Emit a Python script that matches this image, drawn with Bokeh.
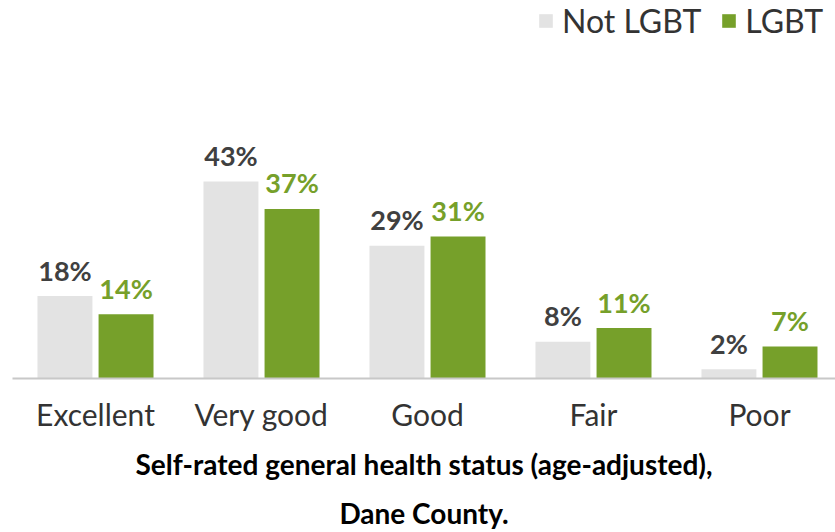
from bokeh.plotting import figure
from bokeh.models import ColumnDataSource, FixedTicker, Legend, LegendItem, Title
from bokeh.embed import file_html
from bokeh.resources import INLINE

categories = ["Excellent", "Very good", "Good", "Fair", "Poor"]
not_lgbt = [18, 43, 29, 8, 2]
lgbt = [14, 37, 31, 11, 7]
series_names = ["Not LGBT", "LGBT"]
title_lines = ["Self-rated general health status (age-adjusted),", "Dane County."]

GRAY = "#e3e3e3"
GREEN = "#76a02a"
DARK = "#404040"

xs = list(range(len(categories)))
dodge = 0.184
src_a = ColumnDataSource(dict(x=[v - dodge for v in xs], top=not_lgbt,
                              lab=[f"{v}%" for v in not_lgbt]))
src_b = ColumnDataSource(dict(x=[v + dodge for v in xs], top=lgbt,
                              lab=[f"{v}%" for v in lgbt]))

p = figure(frame_width=823, frame_height=378, x_range=(-0.5, 4.458), y_range=(0, 82.5),
           output_backend="svg", toolbar_location=None,
           min_border_left=12, min_border_right=0, min_border_top=0, min_border_bottom=154)
p.outline_line_color = None
p.background_fill_color = "white"
p.border_fill_color = "white"
p.xgrid.visible = False
p.ygrid.visible = False
p.yaxis.visible = False

bw = 0.331
ra = p.vbar(x="x", top="top", width=bw, source=src_a, fill_color=GRAY, line_color=None)
rb = p.vbar(x="x", top="top", width=bw, source=src_b, fill_color=GREEN, line_color=None)

font = "Lato"
p.text(x="x", y="top", text="lab", source=src_a, text_align="center", text_baseline="alphabetic",
       y_offset=-26, text_font_size="27px", text_font_style="bold", text_color=DARK,
       text_font={"value": font})
p.text(x="x", y="top", text="lab", source=src_b, text_align="center", text_baseline="alphabetic",
       y_offset=-26, text_font_size="27px", text_font_style="bold", text_color=GREEN,
       text_font={"value": font})

ax = p.xaxis[0]
ax.ticker = FixedTicker(ticks=xs)
ax.major_label_overrides = {i: c for i, c in enumerate(categories)}
ax.major_tick_line_color = None
ax.minor_tick_line_color = None
ax.axis_line_color = "#c8c8c8"
ax.axis_line_width = 2
ax.major_label_text_font = font
ax.major_label_text_font_size = "30px"
ax.major_label_text_color = "#333333"
ax.major_label_standoff = 11

for line, so in zip(title_lines, [21, 5]):
    t = Title(text=line, align="center", text_font=font, text_font_size="28px",
              text_font_style="bold", text_color="black", standoff=so)
    p.add_layout(t, "below")

legend = Legend(items=[LegendItem(label=series_names[0], renderers=[ra]),
                       LegendItem(label=series_names[1], renderers=[rb])],
                orientation="horizontal", location=(525, 338),
                label_text_font=font, label_text_font_size="32px", label_text_color="#333333",
                glyph_width=17, glyph_height=17, label_standoff=8, spacing=19,
                padding=0, margin=0, border_line_color=None, background_fill_alpha=0)
p.add_layout(legend)

open("out.html", "w").write(file_html(p, INLINE))
